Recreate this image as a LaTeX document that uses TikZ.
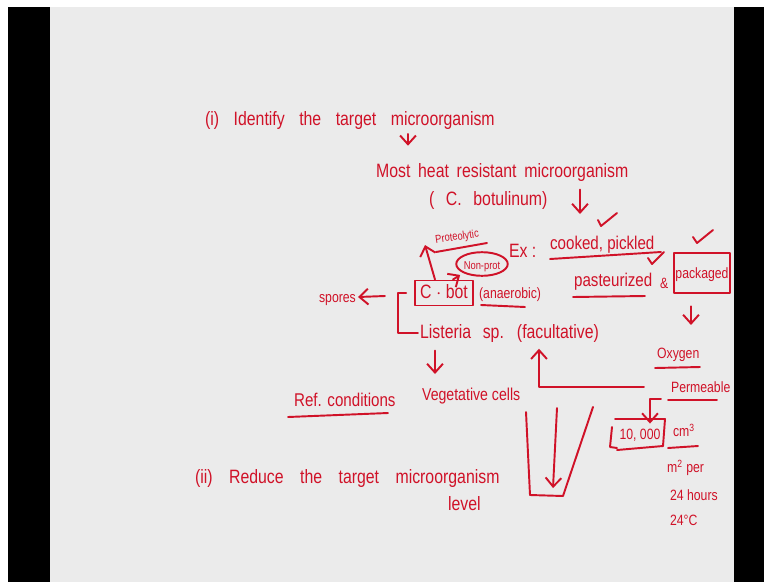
\documentclass[tikz,border=0pt]{standalone}
\usepackage{fontspec}
\setmainfont[FakeStretch=0.82]{Liberation Sans}
\usetikzlibrary{arrows.meta,positioning,shapes.geometric}
\definecolor{marker}{RGB}{208,18,40}
\definecolor{slide}{RGB}{235,235,235}
\tikzset{
  hand/.style={text=marker, inner sep=1pt, text height=1.5ex, text depth=.3ex,
    font=\fontsize{11}{13}\selectfont},
  wide hand/.style={hand, execute at begin node={\spaceskip=#1 plus 1pt\relax}},
  small hand/.style={hand, font=\fontsize{8.5}{10}\selectfont},
  tiny hand/.style={hand, font=\fontsize{6.5}{7}\selectfont},
  ink/.style={draw=marker, line width=1.1pt, line cap=round, line join=round},
  arr/.style={ink, -{Straight Barb[length=5pt,width=9pt]}},
  boxed/.style={ink, rectangle, inner sep=1pt},
}

\begin{document}
\begin{tikzpicture}[x=0.02cm,y=-0.02cm]
  \fill[white] (0,0) rectangle (764,582);
  \fill[black] (8,7) rectangle (50,582);
  \fill[black] (734,7) rectangle (764,582);
  \fill[slide] (50,7) rectangle (734,582);
  \useasboundingbox (0,0) rectangle (764,582);

  \node[wide hand=.75em, anchor=west] (identify) at (203,120) {(i) Identify the target microorganism};
  \node[wide hand=.4em, anchor=west] (resist) at (374,172) {Most heat resistant microorganism};
  \node[wide hand=.6em, anchor=west] (botulinum) at (427,200) {( C. botulinum)};
  \coordinate (choice) at (580,214);

  \node[boxed, hand, minimum width=1.16cm, minimum height=0.5cm] (cbot) at (444,293) {C $\cdot$ bot};
  \node[tiny hand, anchor=west, rotate=8] (proteo) at (433,238) {Proteolytic};
  \node[ellipse, ink, tiny hand, inner sep=0pt, minimum width=0.78cm, minimum height=0.44cm] (nonprot) at (482,264) {Non-prot};
  \node[small hand, anchor=west] (anaerobic) at (477,293) {(anaerobic)};
  \node[small hand, anchor=west] (spores) at (317,297) {spores};
  \coordinate (spores tail) at (385,296);

  \node[hand, anchor=west] (ex) at (507,252) {Ex :};
  \node[hand, font=\fontsize{10.5}{12}\selectfont, anchor=west] (cooked) at (548,244) {cooked, pickled};
  \node[hand, font=\fontsize{10.5}{12}\selectfont, anchor=west] (pasteurized) at (572,281) {pasteurized};
  \node[small hand, anchor=west] (amp) at (658,283) {\&};
  \node[boxed, small hand, minimum width=1cm, minimum height=0.8cm] (packaged) at (702,273) {packaged};

  \node[wide hand=.6em, anchor=west] (listeria) at (418,333) {Listeria sp. (facultative)};
  \node[hand, font=\fontsize{9.8}{12}\selectfont, anchor=west] (vegetative) at (420,395) {Vegetative cells};
  \node[hand, font=\fontsize{10.5}{12}\selectfont, anchor=west] (refcond) at (292,401) {Ref. conditions};

  \node[small hand, anchor=west] (oxygen) at (655,353) {Oxygen};
  \node[small hand, anchor=west] (permeable) at (669,387) {Permeable};
  \node[small hand] (tenk) at (640,434) {10, 000};
  \node[small hand, anchor=west] (cmcube) at (671,431) {cm\textsuperscript{3}};
  \node[small hand, anchor=west] (mper) at (665,467) {m\textsuperscript{2} per};
  \node[small hand, anchor=west] (hours) at (668,495) {24 hours};
  \node[small hand, anchor=west] (temp) at (668,520) {24°C};

  \node[wide hand=.85em, anchor=west] (reduce) at (193,478) {(ii) Reduce the target microorganism};
  \node[hand, anchor=west] (level) at (446,505) {level};

  \draw[arr, shorten <=2pt, shorten >=9pt] (408,0 |- identify.south) -- (408,0 |- resist.north);
  \draw[arr] (580,0 |- botulinum.north) -- (choice);
  \draw[arr] (435,0 |- cbot.north) -- (425,0 |- proteo.south);
  \draw[arr, shorten >=2pt] (453,0 |- cbot.north) -- (nonprot.south west);
  \draw[arr] (spores tail) -- (spores.east);
  \draw[ink] ([xshift=-0.16cm]cbot.west) -| ([xshift=-0.4cm]listeria.west) -- (listeria.west);
  \draw[arr, shorten <=4pt, shorten >=6pt] (435,0 |- listeria.south) -- (435,0 |- vegetative.north);
  \draw[arr, shorten >=3pt] ([xshift=-0.5cm]permeable.west) -| (539,0 |- listeria.south);
  \draw[arr, shorten <=7pt, shorten >=10pt] (691,0 |- packaged.south) -- (691,0 |- oxygen.north);
  \draw[arr] (661,399) -| (650,0 |- tenk.north);

  \draw[ink] (436,252) -- (487,243);
  \draw[ink] (481,305) -- (525,307);
  \draw[ink] (550,259) -- (661,252);
  \draw[ink] (573,297) -- (645,296);
  \draw[ink] (288,417) -- (388,413);
  \draw[ink] (655,368) -- (700,367);
  \draw[ink] (668,400) -- (717,400);
  \draw[ink] (668,448) -- (698,446);

  \draw[ink] (598,220) -- (601,226) -- (617,213);
  \draw[ink] (648,258) -- (652,264) -- (664,252);
  \draw[ink] (693,237) -- (697,243) -- (713,230);

  \draw[ink] (615,419) -- (665,419) -- (663,446);
  \draw[ink] (617,450) -- (663,446);
  \draw[ink] (612,427) -- (610,447) -- (617,448);

  \draw[ink] (526,412) -- (530,495) -- (563,496) -- (593,407);
  \coordinate (funnel top) at (557,408);
  \coordinate (funnel bottom) at (553,488);
  \draw[arr] (funnel top) -- (funnel bottom);
\end{tikzpicture}
\end{document}
